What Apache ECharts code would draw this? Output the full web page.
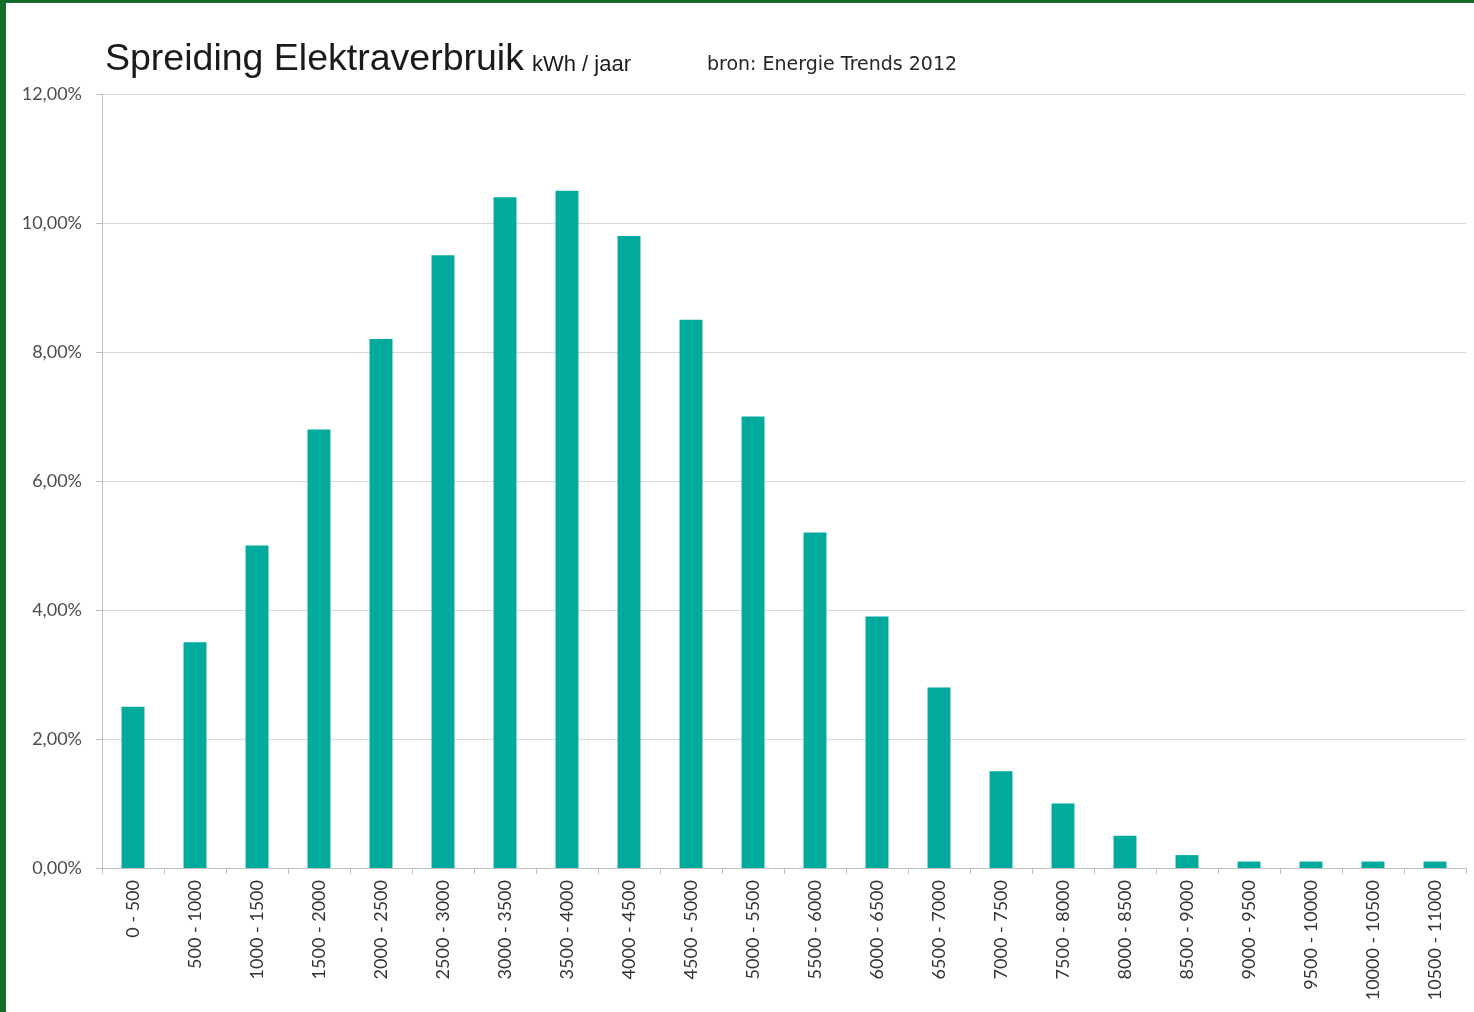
<!DOCTYPE html>
<html>
<head>
<meta charset="utf-8">
<script src="https://cdn.jsdelivr.net/npm/echarts@6/dist/echarts.min.js"></script>
<style>
html,body{margin:0;padding:0;background:#176b2c;width:1474px;height:1012px;overflow:hidden;}
#chart{position:absolute;left:6px;top:3px;width:1468px;height:1009px;background:#ffffff;}
</style>
</head>
<body>
<div id="chart"></div>
<script>
const categories = ["0 - 500","500 - 1000","1000 - 1500","1500 - 2000","2000 - 2500","2500 - 3000","3000 - 3500","3500 - 4000","4000 - 4500","4500 - 5000","5000 - 5500","5500 - 6000","6000 - 6500","6500 - 7000","7000 - 7500","7500 - 8000","8000 - 8500","8500 - 9000","9000 - 9500","9500 - 10000","10000 - 10500","10500 - 11000"];
const percentages = [2.5,3.5,5.0,6.8,8.2,9.5,10.4,10.5,9.8,8.5,7.0,5.2,3.9,2.8,1.5,1.0,0.5,0.2,0.1,0.1,0.1,0.1];
const titleMain = "Spreiding Elektraverbruik";
const titleUnit = "kWh / jaar";
const sourceText = "bron: Energie Trends 2012";

const chart = echarts.init(document.getElementById('chart'));
chart.setOption({
  backgroundColor: '#ffffff',
  animation: false,
  title: [
    {
      text: '{a|' + titleMain + '}{b|' + titleUnit + '}',
      left: 94, top: 33,
      textStyle: {
        fontWeight: 'normal',
        rich: {
          a: {fontFamily: 'Liberation Sans', fontSize: 37.5, fontWeight: 'normal', color: '#1a1a1a'},
          b: {fontFamily: 'Liberation Sans', fontSize: 22, fontWeight: 'normal', color: '#1a1a1a', padding: [10,0,0,8]}
        }
      }
    },
    {
      text: sourceText,
      left: 696, top: 48,
      textStyle: {fontFamily: 'DejaVu Sans', fontSize: 19, fontWeight: 'normal', color: '#262626'}
    }
  ],
  grid: {left: 96, right: 8, top: 91, bottom: 144, containLabel: false},
  xAxis: {
    type: 'category',
    data: categories,
    axisLine: {lineStyle: {color: '#bfbfbf', width: 1}},
    axisTick: {show: true, length: 6, lineStyle: {color: '#bfbfbf'}},
    axisLabel: {rotate: 90, fontFamily: 'Lato', fontSize: 18, color: '#333333', margin: 12, interval: 0}
  },
  yAxis: {
    type: 'value',
    min: 0, max: 12, interval: 2,
    axisLine: {show: true, lineStyle: {color: '#bfbfbf'}},
    axisTick: {show: true, length: 6, lineStyle: {color: '#bfbfbf'}},
    splitLine: {lineStyle: {color: '#d9d9d9', width: 1}},
    axisLabel: {
      fontFamily: 'Lato', fontSize: 18, color: '#4d4d4d', margin: 20,
      formatter: v => v.toFixed(2).replace('.', ',') + '%'
    }
  },
  series: [{
    type: 'bar',
    data: percentages,
    barWidth: '37%',
    itemStyle: {color: '#00aa9c'}
  }]
});
</script>
</body>
</html>
